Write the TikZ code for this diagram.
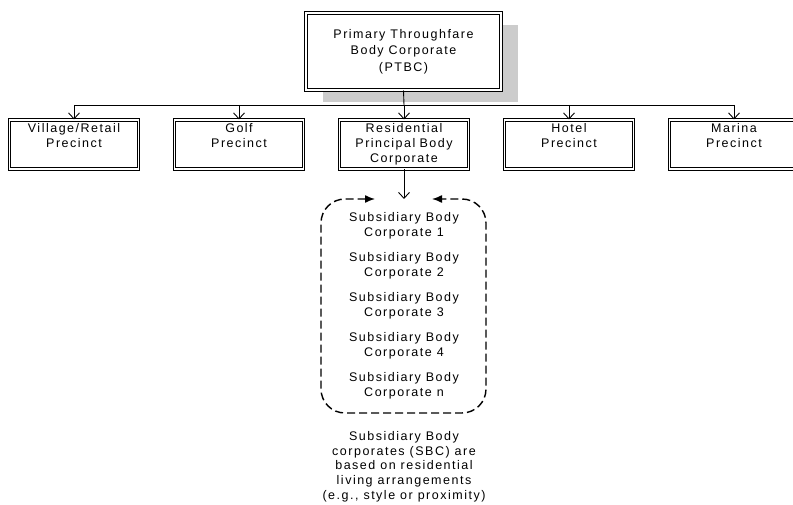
\documentclass[tikz,border=0pt]{standalone}
\usepackage{fontspec}
\setmainfont{Liberation Sans}[LetterSpace=12]
\usetikzlibrary{arrows.meta,shadows}

\definecolor{shadowgray}{RGB}{204,204,204}

\tikzset{
  dblbox/.style={draw, double, line width=1pt, double distance=1.5pt, align=center, inner sep=3pt},
  precinct/.style={dblbox, text width=123pt, text height=10pt, text depth=33pt, font=\fontsize{12.5}{15}\selectfont},
  sbctext/.style={align=center, font=\fontsize{12.5}{15}\selectfont},
  feed/.style={-{Straight Barb[length=6pt,width=11pt]}, line width=0.9pt},
}

\begin{document}
\begin{tikzpicture}[x=1pt, y=-1pt]
  \useasboundingbox (0,0) rectangle (793,505);

  % top body corporate
  \node[dblbox, minimum width=195pt, minimum height=77pt, font=\fontsize{12.5}{16.5}\selectfont,
        fill=white, drop shadow={shadow xshift=17pt, shadow yshift=-12pt, fill=shadowgray, opacity=1}]
    (ptbc) at (403.5,51.5) {Primary Throughfare\\Body Corporate\\(PTBC)};

  % precincts
  \node[precinct] (vil) at (74,144.5)  {Village/Retail\\Precinct};
  \node[precinct] (golf) at (239,144.5) {Golf\\Precinct};
  \node[precinct] (res) at (404,144.5)  {Residential\\Principal Body\\Corporate};
  \node[precinct] (hot) at (569,144.5)  {Hotel\\Precinct};
  \node[precinct] (mar) at (734,144.5)  {Marina\\Precinct};

  % bus
  \coordinate (bus) at (404,105);
  \draw[line width=0.9pt] (ptbc.south) -- (bus);
  \draw[line width=0.9pt] (bus -| vil.north) -- (bus -| mar.north);
  \foreach \c in {vil,golf,res,hot,mar}
    \draw[feed] (bus -| \c.north) -- (\c.north);

  % subsidiary body corporates
  \foreach \n [count=\k] in {1,2,3,4,n}
    \node[sbctext] (sbc\k) at (404,{225.5+40*(\k-1)}) {Subsidiary Body\\Corporate \n};

  % dashed group
  \coordinate (loopL) at (375,199);
  \coordinate (loopR) at (432,199);
  \draw[dashed, dash pattern=on 8pt off 4pt, line width=1.4pt, rounded corners=24pt,
        {Latex[length=10pt,width=8pt]}-{Latex[length=10pt,width=8pt]}]
    (loopL) -- (321,199) -- (321,413) -- (486,413) -- (486,199) -- (loopR);
  \draw[feed] (res.south) -- (res.south |- loopL);

  % note
  \node[align=center, font=\fontsize{12.5}{14.7}\selectfont] (note) at (404,466.5)
    {Subsidiary Body\\corporates (SBC) are\\based on residential\\living arrangements\\(e.g., style or proximity)};
\end{tikzpicture}
\end{document}
